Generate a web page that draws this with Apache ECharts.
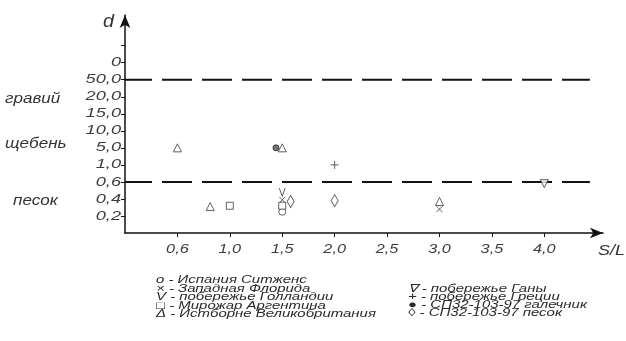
<!DOCTYPE html>
<html><head><meta charset="utf-8">
<script src="https://cdn.jsdelivr.net/npm/echarts@6/dist/echarts.min.js"></script>
<style>html,body{margin:0;padding:0;background:#fff}#c{width:626px;height:341px}</style>
</head><body><div id="c"></div>
<script>
// Axis ticks (non-uniform scales, equally spaced on the chart)
const xTicks = [0.6, 1.0, 1.5, 2.0, 2.5, 3.0, 3.5, 4.0];
const xTickLabels = ['0,6', '1,0', '1,5', '2,0', '2,5', '3,0', '3,5', '4,0'];
const yTicks = [0.2, 0.4, 0.6, 1.0, 5.0, 10.0, 15.0, 20.0, 50.0];
const yTickLabels = ['0,2', '0,4', '0,6', '1,0', '5,0', '10,0', '15,0', '20,0', '50,0', '0'];
const thresholds = [0.6, 50.0];
const zoneNames = ['гравий', 'щебень', 'песок'];
const zoneLevels = [7.85, 5.2, 1.85]; // label level in tick-index units
const axisNames = ['S/L', 'd'];

// Series: [S/L, d]
const seriesNames = ['Испания Ситженс', 'Западная Флорида', 'побережье Голландии', 'Мирожар Аргентина',
  'Истборне Великобритания', 'побережье Ганы', 'побережье Греции', 'СП32-103-97 галечник', 'СП32-103-97 песок'];
const legendGlyphs = ['o', '×', 'V', '□', 'Δ', '∇', '+', '●', '◊'];
const spain      = [[1.5, 0.25]];
const florida    = [[1.5, 0.39], [3.0, 0.28]];
const holland    = [[1.5, 0.48]];
const argentina  = [[1.0, 0.32], [1.5, 0.32]];
const eastbourne = [[0.6, 5.0], [0.85, 0.31], [1.5, 5.0], [3.0, 0.37]];
const ghana      = [[4.0, 0.58]];
const greece     = [[2.0, 1.0]];
const pebble     = [[1.44, 5.0]];
const sand       = [[1.58, 0.37], [2.0, 0.38]];

function toIdx(v, ticks) {
  if (v <= ticks[0]) return v / ticks[0];
  for (let i = 0; i < ticks.length - 1; i++) {
    if (v <= ticks[i + 1]) return (i + 1) + (v - ticks[i]) / (ticks[i + 1] - ticks[i]);
  }
  return ticks.length;
}
const conv = arr => arr.map(p => [toIdx(p[0], xTicks), toIdx(p[1], yTicks)]);

const ink = '#3a3a3a';
const font = '"Liberation Sans", Arial, sans-serif';
const mk = (i, data, symbol, size, extra) => Object.assign({
  name: seriesNames[i], type: 'scatter', data: conv(data), symbol, symbolSize: size,
  itemStyle: { color: '#fff', borderColor: ink, borderWidth: 1 },
  emphasis: { disabled: true }, z: 5
}, extra || {});

const xMax = 9.12, yMax = 12.8, lineEnd = 8.87;
const series = [
  mk(0, spain, 'circle', 7),
  mk(1, florida, 'path://M0,0L10,10M10,0L0,10', 6),
  mk(2, holland, 'path://M0,0L5,10L10,0', [6, 8]),
  mk(3, argentina, 'rect', 7),
  mk(4, eastbourne, 'triangle', 8),
  mk(5, ghana, 'triangle', 8, { symbolRotate: 180 }),
  mk(6, greece, 'path://M5,0L5,10M0,5L10,5', 8),
  mk(7, pebble, 'circle', 6, { itemStyle: { color: '#555', borderColor: '#222', borderWidth: 1 } }),
  mk(8, sand, 'diamond', [7, 12])
];
thresholds.forEach(t => {
  const y = toIdx(t, yTicks);
  series.push({
    type: 'line', data: [[0, y], [lineEnd, y]], symbol: 'none', silent: true, z: 2,
    lineStyle: { color: '#111', width: 2, type: [30, 10], dashOffset: 3 }
  });
});

const chart = echarts.init(document.getElementById('c'), null, { renderer: 'canvas' });
chart.setOption({
  animation: false,
  backgroundColor: '#fff',
  grid: { left: 125, top: 15, width: 478, height: 218 },
  xAxis: {
    type: 'value', min: 0, max: xMax, interval: 1,
    axisLine: { lineStyle: { color: '#111', width: 1.5 }, symbol: ['none', 'arrow'], symbolSize: [8, 13], symbolOffset: [0, 0] },
    axisTick: { show: true, length: 4, lineStyle: { color: '#111' }, customValues: xTicks.map((v, i) => i + 1) },
    axisLabel: { show: false },
    splitLine: { show: false }
  },
  yAxis: {
    type: 'value', min: 0, max: yMax, interval: 1,
    axisLine: { lineStyle: { color: '#111', width: 1.5 }, symbol: ['none', 'arrow'], symbolSize: [8, 13], symbolOffset: [0, 0] },
    axisTick: { show: true, length: 4, lineStyle: { color: '#111' }, customValues: yTickLabels.map((v, i) => i + 1).concat([yTickLabels.length + 1]) },
    axisLabel: { show: false },
    splitLine: { show: false }
  },
  series
});

// Wide (horizontally stretched) labels, placed through the chart's own scales
const px = (x, y) => chart.convertToPixel({ gridIndex: 0 }, [x, y]);
const graphics = [];
yTickLabels.forEach((lab, i) => {
  const p = px(0, i + 1);
  graphics.push({ type: 'text', x: p[0] - 4, y: p[1], scaleX: 1.4, silent: true,
    style: { text: lab, font: 'italic 13px ' + font, fill: '#3c3c3c', align: 'right', verticalAlign: 'middle' } });
});
xTickLabels.forEach((lab, i) => {
  const p = px(i + 1, 0);
  graphics.push({ type: 'text', x: p[0], y: p[1] + 10, scaleX: 1.25, silent: true,
    style: { text: lab, font: 'italic 13px ' + font, fill: '#3c3c3c', align: 'center', verticalAlign: 'top' } });
});
zoneNames.forEach((z, i) => {
  const p = px(0, zoneLevels[i]);
  graphics.push({ type: 'text', x: i === 2 ? 13 : 5, y: p[1], scaleX: 1.22, silent: true,
    style: { text: z, font: 'italic 14px ' + font, fill: '#333', verticalAlign: 'middle' } });
});
const origin = px(0, 0), xEnd = px(xMax, 0), yEnd = px(0, yMax);
graphics.push({ type: 'text', x: xEnd[0] - 5, y: origin[1] + 18, scaleX: 1.2, silent: true,
  style: { text: axisNames[0], font: 'italic 15px ' + font, fill: '#333', verticalAlign: 'middle' } });
graphics.push({ type: 'text', x: origin[0] - 11, y: yEnd[1] + 7, scaleX: 1.1, silent: true,
  style: { text: axisNames[1], font: 'italic 18px ' + font, fill: '#333', align: 'right', verticalAlign: 'middle' } });

// Legend as text lines (glyph - name), two columns
const legendCols = [{ x: 156, y: 280, step: 8.55, from: 0, to: 5 }, { x: 408, y: 289, step: 8.1, from: 5, to: 9 }];
legendCols.forEach(c => {
  for (let i = c.from; i < c.to; i++) {
    graphics.push({ type: 'text', x: c.x, y: c.y + (i - c.from) * c.step, scaleX: 1.36, silent: true,
      style: { text: legendGlyphs[i] + ' - ' + seriesNames[i], font: 'italic 11px ' + font, fill: '#2a2a2a', verticalAlign: 'middle' } });
  }
});
chart.setOption({ graphic: graphics });
</script></body></html>
